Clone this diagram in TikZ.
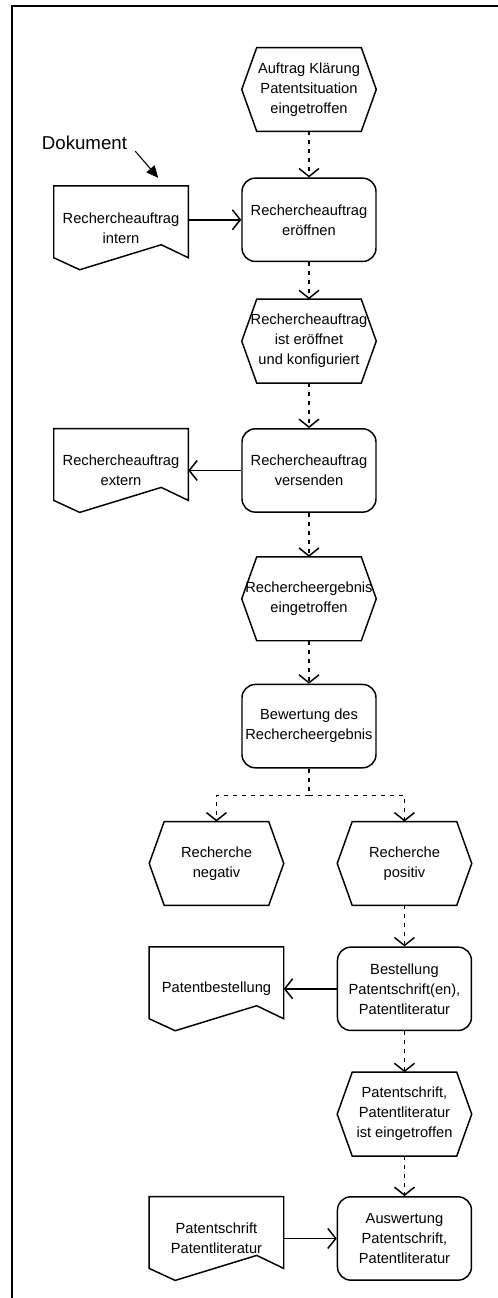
\documentclass[tikz,border=0pt]{standalone}
\usepackage{fontspec}
\setmainfont{Liberation Sans}
\usepackage{tikz}
\usetikzlibrary{arrows.meta,positioning}

\newcommand{\eventoutline}[1]{%
  \draw[shapeline] ([xshift=11.25pt]#1.north west) -- ([xshift=-11.25pt]#1.north east) -- (#1.east)
    -- ([xshift=-11.25pt]#1.south east) -- ([xshift=11.25pt]#1.south west) -- (#1.west) -- cycle;}
\newcommand{\docoutline}[1]{%
  \draw[shapeline] (#1.north west) -- (#1.north east) -- ([yshift=9pt]#1.south east)
    -- ([xshift=-20.25pt,yshift=18.75pt]#1.south east) -- ([xshift=19.5pt]#1.south west)
    -- ([yshift=9pt]#1.south west) -- cycle;}

\begin{document}
\begin{tikzpicture}[node distance=33pt]
  \tikzset{
    shapeline/.style={line width=1.1pt,line join=miter},
    box/.style={minimum width=100.5pt,minimum height=62.5pt,inner sep=0pt,align=center,font=\fontsize{11pt}{15pt}\selectfont},
    func/.style={box,draw,line width=1.1pt,rounded corners=10pt},
    flow/.style={line width=1.1pt,dash pattern=on 3pt off 3.75pt,-{Straight Barb[length=6pt,width=15pt]}},
    link/.style={line width=1.1pt,-{Straight Barb[length=6pt,width=15pt]}}
  }
  \useasboundingbox (0,0) rectangle (373.5pt,-973.5pt);
  \draw[line width=1.5pt] (373.5pt,-4.5pt) -- (9pt,-4.5pt) -- (9pt,-973.5pt);

  % main chain
  \node[box] (auftrag) at (231.75pt,-67.1pt) {Auftrag Klärung\\Patentsituation\\eingetroffen};
  \node[func,below=34.5pt of auftrag] (eroeffnen) {Rechercheauftrag\\eröffnen};
  \node[box,below=27.75pt of eroeffnen] (eroeffnet) {Rechercheauftrag\\ist eröffnet\\und konfiguriert};
  \node[func,below=33.75pt of eroeffnet] (versenden) {Rechercheauftrag\\versenden};
  \node[box,below=33pt of versenden] (ergebnis) {Rechercheergebnis\\eingetroffen};
  \node[func,below=32.25pt of ergebnis] (bewertung) {Bewertung des\\Rechercheergebnis};
  \node[box,below=39.75pt of bewertung,xshift=-69.4pt] (negativ) {Recherche\\negativ};
  \node[box,below=39.75pt of bewertung,xshift=71.6pt] (positiv) {Recherche\\positiv};
  \node[func,below=30.75pt of positiv] (bestellung) {Bestellung\\Patentschrift(en),\\Patentliteratur};
  \node[box,below=30.75pt of bestellung] (eingetroffen) {Patentschrift,\\Patentliteratur\\ist eingetroffen};
  \node[func,below=30pt of eingetroffen] (auswertung) {Auswertung\\Patentschrift,\\Patentliteratur};

  % documents
  \node[box,left=39.75pt of eroeffnen,yshift=-6pt] (intern) {Rechercheauftrag\\intern};
  \node[box,left=39.75pt of versenden] (extern) {Rechercheauftrag\\extern};
  \node[box,left=39.75pt of bestellung] (patbest) {Patentbestellung};
  \node[box,left=39.75pt of auswertung] (patlit) {Patentschrift\\Patentliteratur};

  \foreach \n in {auftrag,eroeffnet,ergebnis,negativ,positiv,eingetroffen} {\eventoutline{\n}}
  \foreach \n in {intern,extern,patbest,patlit} {\docoutline{\n}}

  % legend
  \node[font=\fontsize{14pt}{16pt}\selectfont,inner sep=0pt] (dok) at ([xshift=-27.4pt,yshift=32pt]intern.north) {Dokument};
  \coordinate (dokziel) at ([xshift=-22.5pt,yshift=6pt]intern.north east);
  \draw[line width=0.8pt,-{Triangle[length=9pt,width=8pt]}] ([xshift=6pt,yshift=-6pt]dok.east) -- (dokziel);

  % connectors
  \draw[flow] (auftrag) -- (eroeffnen);
  \draw[link] (intern.east |- eroeffnen.west) -- (eroeffnen.west);
  \draw[flow] (eroeffnen) -- (eroeffnet);
  \draw[flow] (eroeffnet) -- (versenden);
  \draw[link] (versenden) -- (extern);
  \draw[flow] (versenden) -- (ergebnis);
  \draw[flow] (ergebnis) -- (bewertung);
  \draw[flow] (bewertung.south) -- ++(0,-20.25pt) coordinate (split) -| (negativ.north);
  \draw[flow] (split) -| (positiv.north);
  \draw[flow] (positiv) -- (bestellung);
  \draw[link] (bestellung) -- (patbest);
  \draw[flow] (bestellung) -- (eingetroffen);
  \draw[flow] (eingetroffen) -- (auswertung);
  \draw[link] (patlit) -- (auswertung);
\end{tikzpicture}
\end{document}
